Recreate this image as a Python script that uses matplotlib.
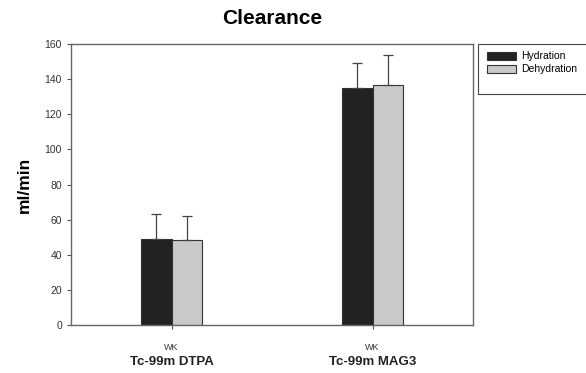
import matplotlib.pyplot as plt
from matplotlib.patches import Rectangle
import numpy as np

plt.rcParams['font.family'] = ['Liberation Sans', 'DejaVu Sans']

groups = ["Tc-99m DTPA", "Tc-99m MAG3"]
sub_label = "WK"
series = ["Hydration", "Dehydration"]
hydration = [48.8, 134.8]
hydration_err = [14.4, 14.2]
dehydration = [48.6, 136.5]
dehydration_err = [13.4, 17.5]
colors = ["#222222", "#c8c9cb"]

W, H = 586, 373
fig = plt.figure(figsize=(W / 100, H / 100), dpi=100)
ax = fig.add_axes([71 / W, 1 - 325 / H, 402 / W, 281 / H])

x = np.arange(len(groups))
w = 0.15
ekw = dict(ecolor="#444444", elinewidth=0.9, capsize=3.5, capthick=0.9)
ax.bar(x - w / 2, hydration, w, yerr=[np.zeros(2), hydration_err], color=colors[0],
       edgecolor="#333333", linewidth=0.8, label=series[0], error_kw=ekw)
ax.bar(x + w / 2, dehydration, w, yerr=[np.zeros(2), dehydration_err], color=colors[1],
       edgecolor="#333333", linewidth=0.8, label=series[1], error_kw=ekw)

ax.set_xlim(-0.5, 1.5)
ax.set_ylim(0, 160)
ax.set_yticks(range(0, 161, 20))
ax.set_xticks(x)
ax.set_xticklabels([sub_label] * 2, fontsize=6.5, color="#333333")
ax.tick_params(axis="y", labelsize=7.5, length=3, color="#555555", labelcolor="#333333")
ax.tick_params(axis="x", length=3, color="#555555", pad=10)
for s in ax.spines.values():
    s.set_color("#666666")
    s.set_linewidth(1.0)

for i, g in enumerate(groups):
    ax.text(i, -0.112, g, transform=ax.get_xaxis_transform(), ha="center", va="top",
            fontsize=9.5, fontweight="bold", color="#222222")

ax.set_ylabel("ml/min", fontsize=12.5, fontweight="bold", labelpad=9)
fig.text(272 / W, 1 - 18 / H, "Clearance", ha="center", va="center", fontsize=15, fontweight="bold")

leg = fig.legend(loc="upper left", bbox_to_anchor=(483 / W, 1 - 47 / H), fontsize=7.5,
                 frameon=False, handlelength=2.8, handleheight=0.8, borderaxespad=0,
                 handletextpad=0.5, labelspacing=0.3)
fig.patches.append(Rectangle((478 / W, 1 - 94 / H), 120 / W, 50 / H, transform=fig.transFigure,
                             facecolor="none", edgecolor="#444444", linewidth=0.8))

fig.savefig("out.png", dpi=100)
